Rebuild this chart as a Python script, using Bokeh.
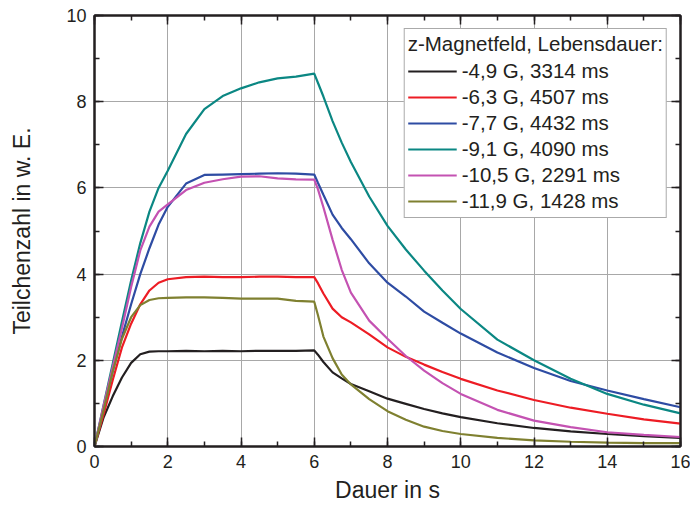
from bokeh.plotting import figure
from bokeh.models import (LinearAxis, SingleIntervalTicker, Range1d, Legend, LegendItem,
                          CustomLabelingPolicy)
from bokeh.embed import file_html
from bokeh.resources import INLINE

# Time axis (s)
t = [0, 0.25, 0.5, 0.75, 1.0, 1.25, 1.5, 1.75, 2.0, 2.5, 3.0, 3.5, 4.0, 4.5, 5.0, 5.5, 6.0,
     6.1, 6.25, 6.5, 6.75, 7.0, 7.5, 8.0, 8.5, 9.0, 9.5, 10.0, 11.0, 12.0, 13.0, 14.0, 15.0, 16.0]

# Particle numbers (arb. units) per z-field setting
n_4_9 = [0, 0.68, 1.17, 1.6, 1.94, 2.14, 2.2, 2.21, 2.21, 2.22, 2.21, 2.22, 2.21, 2.22, 2.22, 2.22, 2.23,
         2.13, 1.96, 1.72, 1.58, 1.45, 1.28, 1.11, 0.99, 0.87, 0.77, 0.68, 0.54, 0.43, 0.35, 0.29, 0.24, 0.2]
n_6_3 = [0, 0.75, 1.55, 2.3, 2.85, 3.3, 3.62, 3.8, 3.88, 3.93, 3.94, 3.93, 3.93, 3.94, 3.94, 3.93, 3.93,
         3.79, 3.55, 3.2, 3.0, 2.88, 2.6, 2.3, 2.08, 1.9, 1.73, 1.57, 1.3, 1.08, 0.9, 0.76, 0.63, 0.53]
n_7_7 = [0, 0.9, 1.75, 2.55, 3.3, 4.0, 4.6, 5.15, 5.56, 6.1, 6.3, 6.31, 6.32, 6.33, 6.34, 6.33, 6.31,
         6.12, 5.84, 5.38, 5.07, 4.81, 4.25, 3.8, 3.48, 3.13, 2.87, 2.62, 2.18, 1.82, 1.52, 1.3, 1.1, 0.91]
n_9_1 = [0, 0.97, 1.93, 2.9, 3.85, 4.72, 5.45, 6.0, 6.4, 7.25, 7.83, 8.13, 8.31, 8.45, 8.54, 8.58, 8.65,
         8.44, 8.12, 7.55, 7.05, 6.6, 5.8, 5.12, 4.57, 4.08, 3.62, 3.19, 2.48, 2.0, 1.57, 1.22, 0.97, 0.77]
n_10_5 = [0, 0.95, 1.85, 2.75, 3.7, 4.55, 5.1, 5.45, 5.62, 5.95, 6.12, 6.2, 6.26, 6.27, 6.22, 6.2, 6.19,
          5.97, 5.55, 4.8, 4.1, 3.57, 2.92, 2.5, 2.1, 1.76, 1.47, 1.22, 0.85, 0.6, 0.45, 0.33, 0.27, 0.22]
n_11_9 = [0, 0.85, 1.75, 2.5, 3.0, 3.28, 3.4, 3.44, 3.45, 3.46, 3.46, 3.45, 3.43, 3.43, 3.43, 3.38, 3.36,
          3.05, 2.55, 2.05, 1.67, 1.44, 1.1, 0.82, 0.62, 0.46, 0.36, 0.29, 0.2, 0.14, 0.11, 0.09, 0.08, 0.08]

labels = ["-4,9 G, 3314 ms", "-6,3 G, 4507 ms", "-7,7 G, 4432 ms",
          "-9,1 G, 4090 ms", "-10,5 G, 2291 ms", "-11,9 G, 1428 ms"]
series = [n_4_9, n_6_3, n_7_7, n_9_1, n_10_5, n_11_9]
colors = ["#231f20", "#ed1c24", "#2e4ca3", "#0b8783", "#c452b2", "#7f8030"]

FONT = "Liberation Sans"
INK = "#231f20"

p = figure(width=690, height=514, output_backend="svg", toolbar_location=None,
           x_range=Range1d(0, 16), y_range=Range1d(0, 10),
           min_border_left=94, min_border_right=10, min_border_top=15, min_border_bottom=68,
           x_axis_label="Dauer in s", y_axis_label="Teilchenzahl in w. E.")
p.background_fill_color = "white"
p.border_fill_color = "white"
p.outline_line_color = INK
p.outline_line_width = 2

no_labels = CustomLabelingPolicy(code="""
const n = indices.size
for (let i = 0; i < n; i++) { indices.unset(i) }
return indices
""")


def style_axis(ax, show_labels, label_size="18px", label_standoff=14):
    ax.ticker = SingleIntervalTicker(interval=2, num_minor_ticks=2)
    ax.major_tick_in = 9
    ax.major_tick_out = 0
    ax.minor_tick_in = 5
    ax.minor_tick_out = 0
    ax.axis_line_color = INK
    ax.axis_line_width = 2
    ax.major_tick_line_color = INK
    ax.major_tick_line_width = 1.5
    ax.minor_tick_line_color = INK
    ax.minor_tick_line_width = 1.5
    if show_labels:
        ax.major_label_text_font = FONT
        ax.major_label_text_font_size = "18px"
        ax.major_label_text_color = INK
        ax.major_label_standoff = 8
        ax.axis_label_text_font = FONT
        ax.axis_label_text_font_size = label_size
        ax.axis_label_text_font_style = "normal"
        ax.axis_label_text_color = INK
        ax.axis_label_standoff = label_standoff
    else:
        ax.major_label_policy = no_labels
        ax.major_label_text_font_size = "1px"
        ax.major_label_standoff = 0


style_axis(p.xaxis[0], True, "23px", 6)
style_axis(p.yaxis[0], True, "23px", 28)
right_ax = LinearAxis()
top_ax = LinearAxis()
style_axis(right_ax, False)
style_axis(top_ax, False)
p.add_layout(right_ax, "right")
p.add_layout(top_ax, "above")

p.xgrid.ticker = SingleIntervalTicker(interval=2)
p.ygrid.ticker = SingleIntervalTicker(interval=2)
for g in (p.xgrid, p.ygrid):
    g.grid_line_color = "#a8a8a8"
    g.grid_line_width = 1

items = []
for ys, col, lab in zip(series, colors, labels):
    r = p.line(t, ys, line_color=col, line_width=2.2)
    items.append(LegendItem(label=lab, renderers=[r]))

legend = Legend(items=items, location="top_right", title="z-Magnetfeld, Lebensdauer:")
legend.title_text_font = FONT
legend.title_text_font_size = "20.5px"
legend.title_text_font_style = "normal"
legend.title_text_color = INK
legend.title_standoff = 2
legend.label_text_font = FONT
legend.label_text_font_size = "20.5px"
legend.label_text_color = INK
legend.label_standoff = 5
legend.glyph_width = 49
legend.glyph_height = 26
legend.label_height = 26
legend.spacing = 0
legend.padding = 3
legend.margin = 13
legend.border_line_color = "#555555"
legend.border_line_width = 1
legend.background_fill_color = "white"
legend.background_fill_alpha = 1
p.add_layout(legend)

open("out.html", "w").write(file_html(p, INLINE))
